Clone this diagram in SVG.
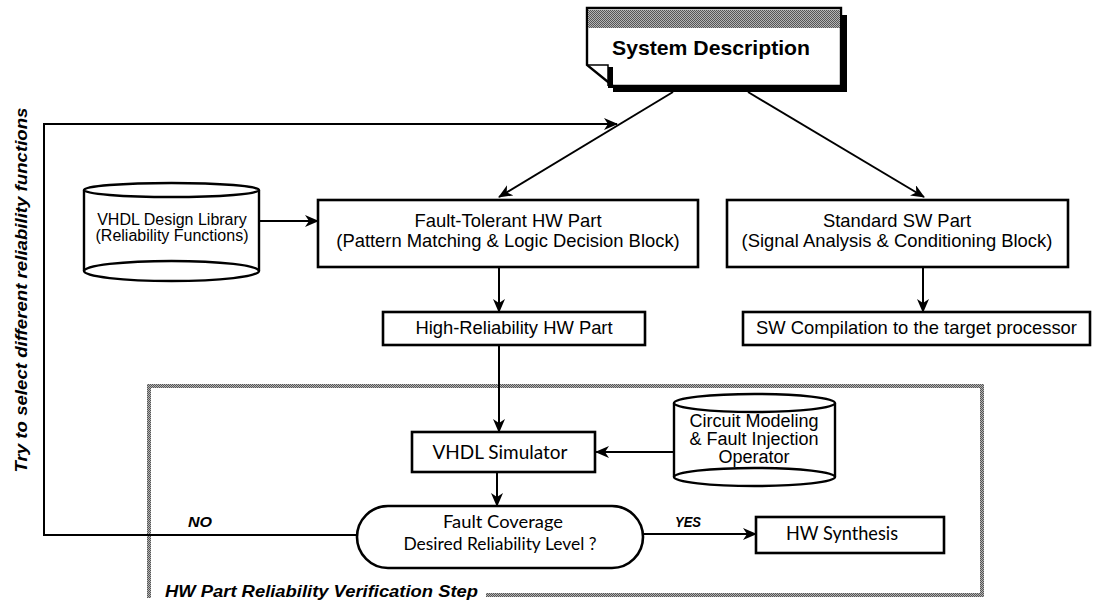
<svg xmlns="http://www.w3.org/2000/svg" width="1099" height="605" viewBox="0 0 1099 605">
  <defs>
    <!-- fine checker used for the grey title band and the dotted frame -->
    <pattern id="hatch" width="2" height="2" patternUnits="userSpaceOnUse">
      <rect width="2" height="2" fill="#b4b4b4"/>
      <rect x="0" y="0" width="1" height="1" fill="#555"/>
      <rect x="1" y="1" width="1" height="1" fill="#555"/>
    </pattern>
    <marker id="arrow" viewBox="0 0 14 12" refX="13" refY="6" markerWidth="14" markerHeight="12" markerUnits="userSpaceOnUse" orient="auto">
      <path d="M0,0 L14,6 L0,12 L4,6 Z" fill="#000"/>
    </marker>
    <style>
      .box { fill: #fff; stroke: #000; stroke-width: 2.6; }
      .line { fill: none; stroke: #000; stroke-width: 2; }
      .arial { font-family: "Liberation Sans", Arial, sans-serif; fill: #000; }
      .geo { font-family: Lato, "Noto Sans", sans-serif; font-weight: normal; fill: #000; }
      .bi { font-family: "Liberation Sans", Arial, sans-serif; font-weight: bold; font-style: italic; fill: #000; }
      .hatch { fill: url(#hatch); }
    </style>
  </defs>

  <rect width="1099" height="605" fill="#fff"/>

  <!-- verification step frame -->
  <g id="verification-frame">
    <rect class="hatch" x="147" y="384" width="837" height="4"/>
    <rect class="hatch" x="147" y="384" width="4" height="214"/>
    <rect class="hatch" x="980" y="384" width="4" height="213"/>
    <rect class="hatch" x="486" y="593" width="498" height="4"/>
    <text class="bi" x="165" y="597" font-size="16" textLength="313" lengthAdjust="spacingAndGlyphs">HW Part Reliability Verification Step</text>
  </g>

  <!-- connectors -->
  <g id="connectors">
    <line class="line" x1="673" y1="92" x2="499" y2="197" marker-end="url(#arrow)"/>
    <line class="line" x1="748" y1="92" x2="924" y2="197" marker-end="url(#arrow)"/>
    <line class="line" x1="259" y1="221" x2="318" y2="221" marker-end="url(#arrow)"/>
    <line class="line" x1="499" y1="268" x2="499" y2="312" marker-end="url(#arrow)"/>
    <line class="line" x1="923" y1="268" x2="923" y2="312" marker-end="url(#arrow)"/>
    <line class="line" x1="499" y1="346" x2="499" y2="432" marker-end="url(#arrow)"/>
    <line class="line" x1="674" y1="452" x2="596" y2="452" marker-end="url(#arrow)"/>
    <line class="line" x1="497" y1="473" x2="497" y2="506" marker-end="url(#arrow)"/>
    <line class="line" x1="643" y1="534" x2="756" y2="534" marker-end="url(#arrow)"/>
    <polyline class="line" points="357,535 44,535 44,124 617,124" marker-end="url(#arrow)"/>
    <text class="bi" x="188" y="527" font-size="15" textLength="24" lengthAdjust="spacingAndGlyphs">NO</text>
    <text class="bi" x="675" y="527" font-size="15" textLength="26" lengthAdjust="spacingAndGlyphs">YES</text>
    <text class="bi" font-size="16" text-anchor="middle" transform="translate(27,290) rotate(-90)" textLength="365" lengthAdjust="spacingAndGlyphs">Try to select different reliability functions</text>
  </g>

  <!-- document node -->
  <g id="system-description">
    <!-- shadow -->
    <rect x="613" y="86" width="234" height="6" fill="#000"/>
    <rect x="841" y="15" width="6" height="77" fill="#000"/>
    <path d="M587,8 L841,8 L841,86 L613,86 L587,65 Z" fill="#fff" stroke="#000" stroke-width="2.4"/>
    <rect class="hatch" x="588" y="10" width="252" height="18"/>
    <path d="M587,65 L608,65 L608,86" fill="none" stroke="#000" stroke-width="1.5"/>
    <rect x="608" y="67" width="5" height="21" fill="#000"/>
    <text class="arial" x="612" y="55" font-size="21" font-weight="bold" textLength="198" lengthAdjust="spacingAndGlyphs">System Description</text>
  </g>

  <!-- library cylinder -->
  <g id="vhdl-library">
    <path d="M84,190 L84,271 A87.5,10 0 0 0 259,271 L259,190" fill="#fff" stroke="#000" stroke-width="2.4"/>
    <ellipse cx="171.5" cy="190" rx="87.5" ry="7" fill="#fff" stroke="#000" stroke-width="2.4"/>
    <path d="M84,271 A87.5,10 0 0 1 259,271" fill="none" stroke="#000" stroke-width="2.4"/>
    <text class="arial" x="172" y="225" font-size="16" text-anchor="middle">VHDL Design Library</text>
    <text class="arial" x="172" y="241" font-size="16" text-anchor="middle">(Reliability Functions)</text>
  </g>

  <g id="fault-tolerant-hw">
    <rect class="box" x="318" y="200" width="380" height="67"/>
    <text class="arial" x="508" y="227" font-size="18.4" text-anchor="middle">Fault-Tolerant HW Part</text>
    <text class="arial" x="508" y="247" font-size="18.4" text-anchor="middle">(Pattern Matching &amp; Logic Decision Block)</text>
  </g>

  <g id="standard-sw">
    <rect class="box" x="727" y="200" width="341" height="67"/>
    <text class="arial" x="897" y="227" font-size="18.4" text-anchor="middle">Standard SW Part</text>
    <text class="arial" x="897" y="247" font-size="18.4" text-anchor="middle">(Signal Analysis &amp; Conditioning Block)</text>
  </g>

  <g id="high-reliability-hw">
    <rect class="box" x="383" y="312" width="262" height="33"/>
    <text class="arial" x="514" y="334" font-size="18.4" text-anchor="middle">High-Reliability HW Part</text>
  </g>

  <g id="sw-compilation">
    <rect class="box" x="743" y="312" width="347" height="33"/>
    <text class="arial" x="756" y="334" font-size="18.4">SW Compilation to the target processor</text>
  </g>

  <g id="vhdl-simulator">
    <rect class="box" x="412" y="432" width="183" height="40"/>
    <text class="geo" x="500" y="459" font-size="19" text-anchor="middle" textLength="135" lengthAdjust="spacingAndGlyphs">VHDL Simulator</text>
  </g>

  <!-- fault injection cylinder -->
  <g id="circuit-modeling">
    <path d="M674,403 L674,477 A80.5,9 0 0 0 835,477 L835,403" fill="#fff" stroke="#000" stroke-width="2.4"/>
    <ellipse cx="754.5" cy="403" rx="80.5" ry="9" fill="#fff" stroke="#000" stroke-width="2.4"/>
    <path d="M674,477 A80.5,9 0 0 1 835,477" fill="none" stroke="#000" stroke-width="2.4"/>
    <text class="arial" x="754" y="427" font-size="18" text-anchor="middle">Circuit Modeling</text>
    <text class="arial" x="754" y="445" font-size="18" text-anchor="middle">&amp; Fault Injection</text>
    <text class="arial" x="754" y="463" font-size="18" text-anchor="middle">Operator</text>
  </g>

  <g id="reliability-decision">
    <rect class="box" x="357" y="506" width="286" height="62" rx="31" ry="31"/>
    <text class="geo" x="503" y="528" font-size="17" text-anchor="middle" textLength="120" lengthAdjust="spacingAndGlyphs">Fault Coverage</text>
    <text class="geo" x="500" y="550" font-size="17" text-anchor="middle" textLength="193" lengthAdjust="spacingAndGlyphs">Desired Reliability Level ?</text>
  </g>

  <g id="hw-synthesis">
    <rect class="box" x="756" y="517" width="188" height="36"/>
    <text class="geo" x="842" y="540" font-size="19" text-anchor="middle" textLength="112" lengthAdjust="spacingAndGlyphs">HW Synthesis</text>
  </g>
</svg>
